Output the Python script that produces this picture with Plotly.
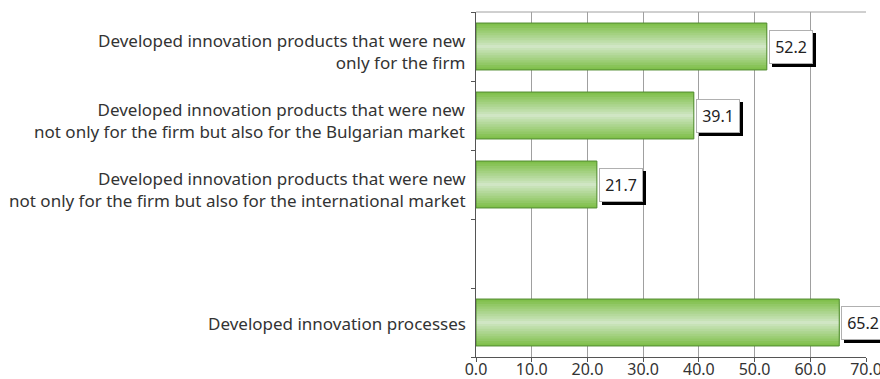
import plotly.graph_objects as go

# Share of firms (%) by type of innovation activity
categories = [
    "Developed innovation products that were new<br>only for the firm",
    "Developed innovation products that were new<br>not only for the firm but also for the Bulgarian market",
    "Developed innovation products that were new<br>not only for the firm but also for the international market",
    " ",
    "Developed innovation processes",
]
values = [52.2, 39.1, 21.7, None, 65.2]
x_ticks = [0, 10, 20, 30, 40, 50, 60, 70]

FONT = "Noto Sans"
bar_width = 0.68

fig = go.Figure()

# Layered bars from the outer edge to the centre give a vertical green gradient
edge = (128, 192, 76)
centre = (208, 230, 196)
layers = 10
for i in range(layers):
    t = i / (layers - 1)
    rgb = tuple(round(edge[k] + (centre[k] - edge[k]) * t) for k in range(3))
    w = bar_width * (1 - 0.94 * t)
    fig.add_trace(go.Bar(
        x=values, y=categories, orientation="h", width=w,
        marker=dict(color="rgb(%d,%d,%d)" % rgb, line=dict(width=0)),
        hoverinfo="skip", showlegend=False,
    ))

# Outline over the gradient stack
fig.add_trace(go.Bar(
    x=values, y=categories, orientation="h", width=bar_width,
    marker=dict(color="rgba(0,0,0,0)", line=dict(width=1, color="#4f8a2e")),
    hoverinfo="skip", showlegend=False,
))

# Category labels, right-aligned against the value axis
for cat in categories:
    if not cat.strip():
        continue
    fig.add_annotation(
        x=0, xref="paper", y=cat, yref="y", text=cat,
        showarrow=False, xanchor="right", yanchor="middle", align="right",
        xshift=-8, yshift=-5 if "<br>" in cat else -1,
        font=dict(family=FONT, size=17, color="#333"),
    )

# Value labels: white box with a black drop shadow
for cat, v in zip(categories, values):
    if v is None:
        continue
    label = f"{v:.1f}"
    for shadow in (True, False):
        fig.add_annotation(
            x=v, y=cat, xref="x", yref="y", text=label,
            showarrow=False, xanchor="left", yanchor="middle",
            xshift=5 if shadow else 2, yshift=-3 if shadow else 0,
            width=40, height=30, borderpad=1, borderwidth=1,
            bgcolor="black" if shadow else "white",
            bordercolor="black" if shadow else "#b0b0b0",
            font=dict(family=FONT, size=16, color="black" if shadow else "#222"),
        )

fig.update_layout(
    width=880, height=379,
    margin=dict(l=476, r=14, t=12, b=22, autoexpand=False),
    barmode="overlay",
    plot_bgcolor="white", paper_bgcolor="white",
    font=dict(family=FONT, size=16, color="#333"),
    xaxis=dict(
        range=[0, 70], tickvals=x_ticks, ticktext=[f"{t:.1f}" for t in x_ticks],
        showgrid=True, gridcolor="#a0a0a0", gridwidth=1,
        showline=True, linecolor="#555", linewidth=1, mirror=False,
        ticks="outside", ticklen=4, tickcolor="#555",
        tickfont=dict(size=16, color="#333"), zeroline=False,
        ticklabelstandoff=-6, ticklabeloverflow="allow",
    ),
    yaxis=dict(
        type="category", categoryorder="array", categoryarray=categories[::-1],
        tickson="boundaries", ticks="outside", ticklen=4, tickcolor="#555",
        showgrid=False, showline=True, linecolor="#555", linewidth=1,
        showticklabels=False,
    ),
    shapes=[dict(type="line", xref="paper", yref="paper", x0=0, x1=1, y0=1, y1=1,
                 line=dict(color="#a0a0a0", width=1))],
)

fig.write_html("out.html")
